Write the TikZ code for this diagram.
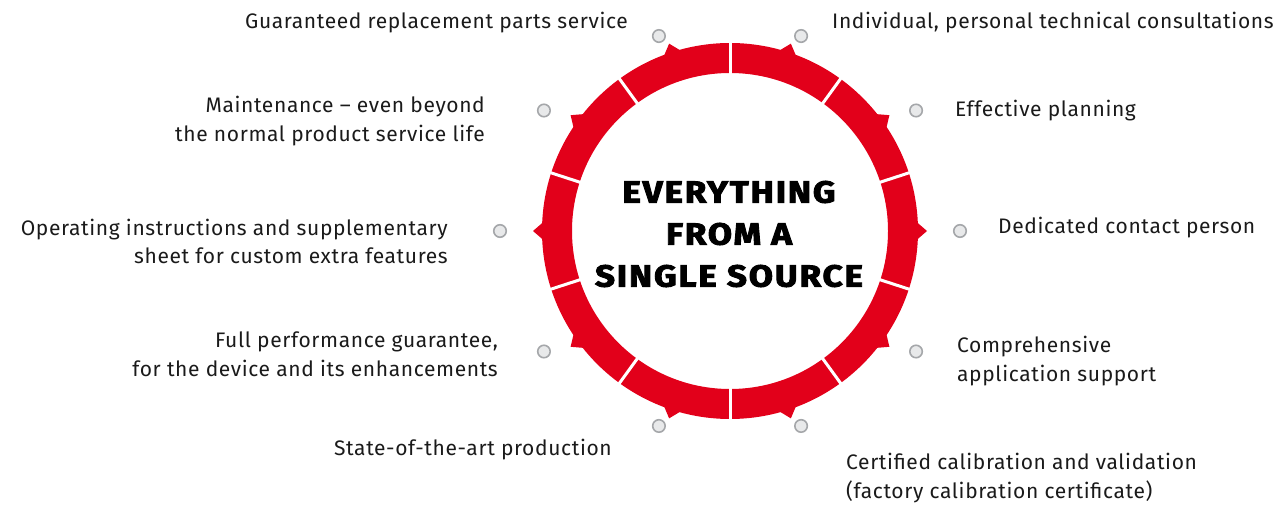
\documentclass[tikz,border=0pt]{standalone}
\usepackage{fontspec}
\usetikzlibrary{calc}
\setmainfont{Fira Sans}[LetterSpace=3]
\newfontfamily\titlefont{Fira Sans Bold}[LetterSpace=6,FakeStretch=1.15,FakeBold=3]
\definecolor{ringred}{HTML}{E2001A}
\definecolor{dotfill}{HTML}{E8E9EA}
\definecolor{dotline}{HTML}{A5A7AA}
\definecolor{txt}{HTML}{1A1A1A}
\begin{document}
\begin{tikzpicture}[x=1pt,y=1pt,
  lbl/.style={inner sep=0pt,text=txt,font=\fontsize{21}{28.5}\selectfont},
  lblL/.style={lbl,anchor=east,align=right},
  lblR/.style={lbl,anchor=west,align=left},
  dotmark/.style={circle,draw=dotline,fill=dotfill,line width=1.6pt,minimum size=12.5pt,inner sep=0pt},
  divider/.style={white,line width=3pt}]
\useasboundingbox (0,0) rectangle (1278,506);
\coordinate (c) at (730,275);
% ring
\fill[ringred,even odd rule] (c) circle[radius=188] (c) circle[radius=158];
\foreach \a in {0,36,...,324}{
  \fill[ringred] ($(c)+(\a-3:186)$) -- ($(c)+(\a:197)$) -- ($(c)+(\a+3:186)$) -- cycle;
}
\foreach \a in {18,54,...,342}{
  \draw[divider] ($(c)+(\a:155)$) -- ($(c)+(\a:192)$);
}
% dots
\foreach \a [count=\i from 0] in {0,36,...,324}{
  \node[dotmark] (d\i) at ($(c)+({230*cos(\a)},{205*sin(\a)})$) {};
}
% title
\node[inner sep=0pt,align=center,font=\titlefont\fontsize{30.5}{42}\selectfont] (title) at (729,272) {EVERYTHING\\FROM A\\SINGLE SOURCE};
% labels
\node[lblL] (l1) at (628,483) {Guaranteed replacement parts service};
\node[lblR] (r1) at (832,483) {Individual, personal technical consultations};
\node[lblR] (r2) at (955,395) {Effective planning};
\node[lblR] (r3) at (998,278) {Dedicated contact person};
\node[lblR] (r4) at (957,145) {Comprehensive\\application support};
\node[lblR] (r5) at (846,28) {Certified calibration and validation\\(factory calibration certificate)};
\node[lblL] (l5) at (612,56) {State-of-the-art production};
\node[lblL] (l4) at (498,151.5) {Full performance guarantee,\\for the device and its enhancements};
\node[lblL] (l3) at (448,264.5) {Operating instructions and supplementary\\sheet for custom extra features};
\node[lblL] (l2) at (485,385) {Maintenance – even beyond\\the normal product service life};
\end{tikzpicture}
\end{document}
